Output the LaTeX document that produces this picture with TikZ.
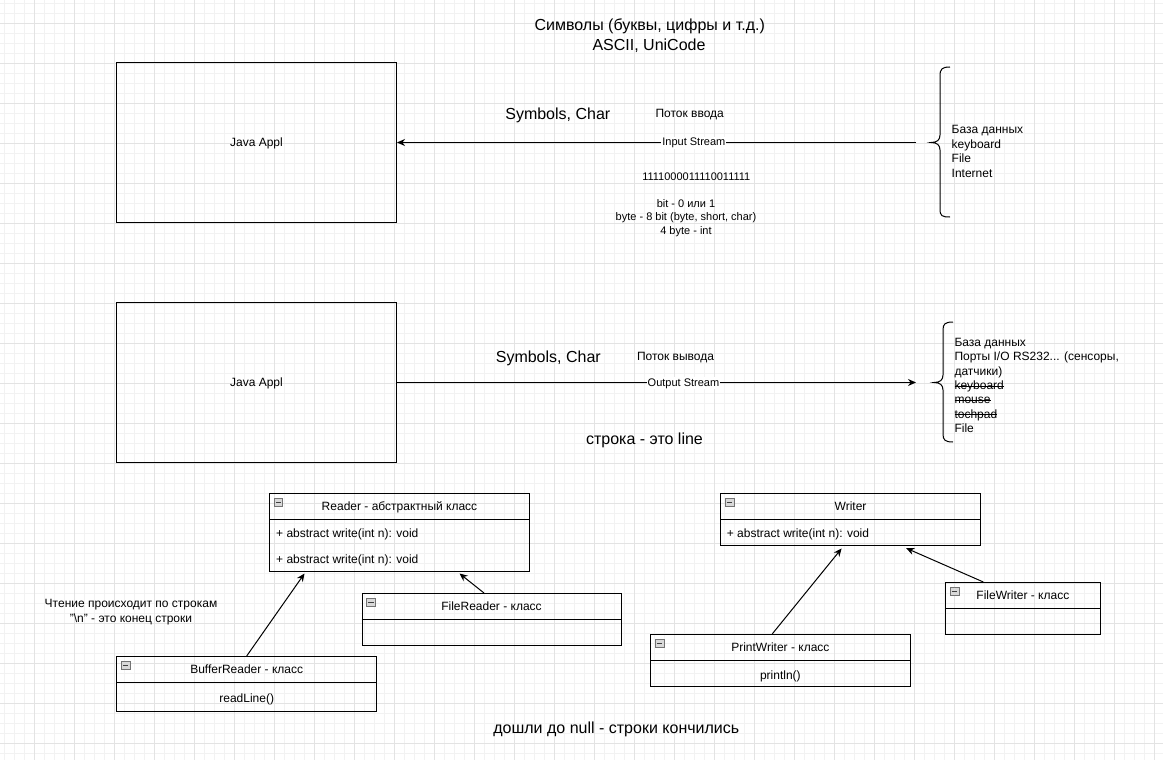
\documentclass[tikz,border=0pt]{standalone}
\usepackage{fontspec}
\setmainfont{Liberation Sans}
\usetikzlibrary{arrows.meta,fit}
\newcommand\strk[1]{\setbox0\hbox{#1}\rlap{\rule[3.1pt]{\wd0}{0.8pt}}\box0}
\tikzset{
  minorgrid/.style={draw=black!5, line width=0.7pt},
  majorgrid/.style={draw=black!11, line width=0.8pt},
  box/.style={draw, line width=1pt, inner sep=0pt},
  lbl/.style={inner sep=0pt, yshift=-0.8pt, font=\fontsize{12}{14.4}\selectfont},
  big/.style={inner sep=0pt, yshift=-0.8pt, font=\fontsize{16}{19.2}\selectfont},
  small/.style={inner sep=0pt, yshift=-0.8pt, font=\fontsize{11}{13.2}\selectfont},
  arr/.style={line width=1pt, -{Stealth[length=8pt,width=7pt]}},
  icon/.style={draw=black!55, fill=black!15, minimum width=8.5pt, minimum height=8.5pt, inner sep=0pt, line width=0.6pt},
  bracestyle/.style={line width=1pt},
}
% name, L, T, R, B, D, title
\newcommand\umlcls[7]{%
  \coordinate (#1nw) at (#2,#3);
  \coordinate (#1se) at (#4,#5);
  \node[box, fit=(#1nw)(#1se)] (#1) {};
  \draw[line width=1pt] (#1.west |- 0,#6) -- (#1.east |- 0,#6);
  \node[icon] (#1icon) at ({#2+9},{#3+9}) {};
  \draw[line width=0.8pt, black!75] ([xshift=1.8pt]#1icon.west) -- ([xshift=-1.8pt]#1icon.east);
  \node[lbl, anchor=base] (#1title) at ({(#2+#4)/2},{#3+16.5}) {#7};
}
\begin{document}
\begin{tikzpicture}[x=1pt,y=-1pt]
\useasboundingbox (0,0) rectangle (1163,760);
\fill[white] (0,0) rectangle (1163,760);
% grid
\foreach \x in {4,14,...,1160} \draw[minorgrid] (\x,0) -- (\x,760);
\foreach \y in {3,13,...,760} \draw[minorgrid] (0,\y) -- (1163,\y);
\foreach \x in {34,74,...,1160} \draw[majorgrid] (\x,0) -- (\x,760);
\foreach \y in {23,63,...,760} \draw[majorgrid] (0,\y) -- (1163,\y);

% titles
\node[big, anchor=base] (title1) at (649.7,29.5) {Символы (буквы, цифры и т.д.)};
\node[big, anchor=base] (title2) at (649,49.5) {ASCII, UniCode};

% Java boxes
\node[box, minimum width=280pt, minimum height=160pt] (java1) at (256.5,142.5) {};
\node[lbl] (java1text) at (java1.center) {Java Appl};
\node[box, minimum width=280pt, minimum height=160pt] (java2) at (256.5,382.5) {};
\node[lbl] (java2text) at (java2.center) {Java Appl};

% input stream
\coordinate (inSrc) at (916,142.5);
\draw[arr] (inSrc) -- (java1.east) node[small, pos=0.428, fill=white, inner xsep=1pt, inner ysep=1pt] (instream) {Input Stream};
\node[big, anchor=base] (sym1) at (557.8,118.5) {Symbols, Char};
\node[lbl, anchor=base] (potok1) at (689.7,117) {Поток ввода};
\node[small, anchor=base] (binary) at (696.3,179.3) {1111000011110011111};
\node[small, anchor=north, align=center] (bits) at (686,198.7) {bit - 0 или 1\\byte - 8 bit (byte, short, char)\\4 byte - int};

% brace 1
\draw[bracestyle] (950,67) .. controls (942,67) and (940,69) .. (940,76) -- (940,135)
  .. controls (940,140) and (937,142.5) .. (931,142.5)
  .. controls (937,142.5) and (940,145) .. (940,150) -- (940,209)
  .. controls (940,216) and (942,217) .. (950,217);
\node[lbl, anchor=north west, align=left] (list1) at (951.5,124.7) {База данных\\keyboard\\File\\Internet};

% output stream
\coordinate (outDst) at (916,382.5);
\draw[arr] (java2.east) -- (outDst) node[small, pos=0.552, fill=white, inner xsep=1pt, inner ysep=1pt] (outstream) {Output Stream};
\node[big, anchor=base] (sym2) at (548.3,361.7) {Symbols, Char};
\node[lbl, anchor=base] (potok2) at (675.5,359.8) {Поток вывода};
\node[big, anchor=base] (stroka) at (644.5,443.5) {строка - это line};

% brace 2
\draw[bracestyle] (953,322) .. controls (945,322) and (943,324) .. (943,330) -- (943,375)
  .. controls (943,380) and (940,382.5) .. (934,382.5)
  .. controls (940,382.5) and (943,385) .. (943,390) -- (943,434)
  .. controls (943,440) and (945,442) .. (953,442);
\node[lbl, anchor=north west, align=left] (list2) at (954.3,337.1) {База данных\\Порты I/O RS232... (сенсоры,\\датчики)\\\strk{keyboard}\\\strk{mouse}\\\strk{tochpad}\\File};

% UML classes
\umlcls{reader}{269.5}{493.5}{529.5}{571}{519.5}{Reader - абстрактный класс}
\node[lbl, anchor=base west] (rdm1) at (276,537) {+ abstract write(int n): void};
\node[lbl, anchor=base west] (rdm2) at (276,562.6) {+ abstract write(int n): void};

\umlcls{freader}{362}{593.5}{621}{645.5}{619.5}{FileReader - класс}

\umlcls{breader}{116.7}{656.5}{376.7}{711.7}{682.3}{BufferReader - класс}
\node[lbl, anchor=base] (brm) at (246.7,701.3) {readLine()};

\umlcls{writer}{720.7}{493.5}{980.5}{545}{519.5}{Writer}
\node[lbl, anchor=base west] (wrm) at (726.7,537) {+ abstract write(int n): void};

\umlcls{fwriter}{945.7}{582.5}{1100}{634}{608.3}{FileWriter - класс}

\umlcls{pwriter}{650.7}{634.3}{910}{686}{660}{PrintWriter - класс}
\node[lbl, anchor=base] (pwm) at (780.35,678.3) {println()};

% inheritance arrows
\draw[arr] (breader.north) -- ([xshift=35.5pt,yshift=-2pt]reader.south west);
\draw[arr] ([xshift=-7.5pt]freader.north) -- ([xshift=-70.5pt,yshift=-2pt]reader.south east);
\draw[arr] ([xshift=-8pt]pwriter.north) -- ([xshift=-9pt,yshift=-3pt]writer.south);
\draw[arr] ([xshift=-39.5pt]fwriter.north) -- ([xshift=-74.8pt,yshift=-2.7pt]writer.south east);

% notes
\node[lbl, anchor=north, align=center, font=\fontsize{12}{15}\selectfont] (note) at (131,598.7) {Чтение происходит по строкам\\"\textbackslash n" - это конец строки};
\node[big, anchor=base] (nullnote) at (616.3,733) {дошли до null - строки кончились};
\end{tikzpicture}
\end{document}
